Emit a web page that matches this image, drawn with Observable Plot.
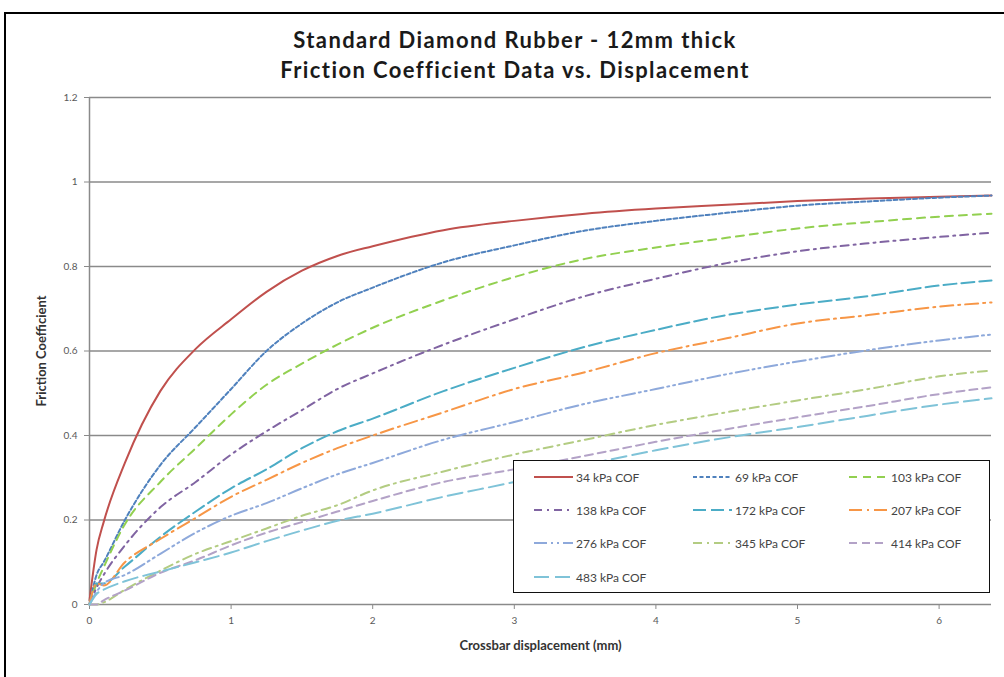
<!DOCTYPE html>
<html>
<head>
<meta charset="utf-8">
<script src="https://cdn.jsdelivr.net/npm/d3@7"></script>
<script src="https://cdn.jsdelivr.net/npm/@observablehq/plot@0.6"></script>
<style>
  html, body { margin: 0; padding: 0; width: 1004px; height: 677px; overflow: hidden; background: #fff; font-family: Lato, "Open Sans", sans-serif; }
  #frame { position: absolute; left: 4px; top: 12px; width: 1020px; height: 720px; border: 2.5px solid #000; box-sizing: border-box; }
  #title { position: absolute; left: 0; top: 25px; width: 1030px; text-align: center; font-weight: bold; font-size: 22px; letter-spacing: 1.4px; line-height: 30px; color: #1a1a1a; }
  #chart { position: absolute; left: 0; top: 0; }
  #legend { position: absolute; left: 513px; top: 460px; width: 477px; height: 133px; box-sizing: border-box; border: 1.5px solid #111; background: #fff; }
  .item { position: absolute; height: 16px; font-size: 12px; color: #444; display: flex; align-items: center; white-space: nowrap; }
  .item svg { margin-right: 3px; }
</style>
</head>
<body>
<div id="frame"></div>
<div id="chart"></div>
<div id="title">Standard Diamond Rubber - 12mm thick<br>Friction Coefficient Data vs. Displacement</div>
<div id="legend"></div>
<script>
// Displacement (mm)
const displacement = [0, 0.05, 0.1, 0.25, 0.5, 0.75, 1, 1.25, 1.5, 1.75, 2, 2.5, 3, 3.5, 4, 4.5, 5, 5.5, 6, 6.37];

// Friction coefficient per normal pressure
const cof34  = [0.01, 0.13, 0.195, 0.335, 0.505, 0.605, 0.675, 0.74, 0.79, 0.825, 0.848, 0.886, 0.908, 0.925, 0.937, 0.946, 0.955, 0.961, 0.965, 0.968];
const cof69  = [0, 0.07, 0.1, 0.2, 0.33, 0.42, 0.51, 0.6, 0.665, 0.715, 0.75, 0.81, 0.85, 0.885, 0.908, 0.927, 0.944, 0.954, 0.963, 0.968];
const cof103 = [0, 0.05, 0.088, 0.19, 0.29, 0.37, 0.45, 0.52, 0.57, 0.615, 0.655, 0.72, 0.775, 0.818, 0.845, 0.868, 0.89, 0.905, 0.918, 0.925];
const cof138 = [0, 0.04, 0.07, 0.14, 0.23, 0.29, 0.355, 0.41, 0.46, 0.51, 0.547, 0.615, 0.675, 0.73, 0.771, 0.808, 0.836, 0.855, 0.87, 0.88];
const cof172 = [0, 0.05, 0.05, 0.09, 0.16, 0.22, 0.275, 0.32, 0.37, 0.41, 0.44, 0.505, 0.56, 0.61, 0.65, 0.685, 0.71, 0.73, 0.755, 0.767];
const cof207 = [0, 0.05, 0.045, 0.1, 0.155, 0.205, 0.255, 0.295, 0.335, 0.37, 0.4, 0.455, 0.51, 0.55, 0.595, 0.63, 0.665, 0.685, 0.705, 0.715];
const cof276 = [0, 0.03, 0.05, 0.07, 0.12, 0.17, 0.21, 0.24, 0.275, 0.308, 0.335, 0.39, 0.432, 0.475, 0.51, 0.545, 0.575, 0.602, 0.625, 0.639];
const cof345 = [0, 0, 0.005, 0.035, 0.08, 0.12, 0.15, 0.18, 0.21, 0.235, 0.27, 0.315, 0.355, 0.39, 0.425, 0.455, 0.483, 0.51, 0.54, 0.554];
const cof414 = [0, 0, 0.01, 0.033, 0.075, 0.105, 0.14, 0.17, 0.195, 0.22, 0.245, 0.29, 0.32, 0.352, 0.385, 0.415, 0.443, 0.47, 0.498, 0.514];
const cof483 = [0, 0.025, 0.035, 0.055, 0.078, 0.1, 0.123, 0.15, 0.175, 0.198, 0.215, 0.255, 0.29, 0.33, 0.365, 0.395, 0.42, 0.447, 0.473, 0.488];

const seriesNames = ["34 kPa COF", "69 kPa COF", "103 kPa COF", "138 kPa COF", "172 kPa COF", "207 kPa COF", "276 kPa COF", "345 kPa COF", "414 kPa COF", "483 kPa COF"];
const seriesValues = [cof34, cof69, cof103, cof138, cof172, cof207, cof276, cof345, cof414, cof483];
const seriesColors = ["#C0504D", "#4F81BD", "#92D050", "#8064A2", "#4BACC6", "#F79646", "#8EA9DB", "#B3CC82", "#B3A2C7", "#7FC3D8"];
const seriesDash = ["none", "4,2.5", "8,6", "8,5,2,5", "13,5", "13,5,2,5", "13,4,2,4,2,4", "9,5,2,5", "8,5", "15,6"];

const xTicks = [0, 1, 2, 3, 4, 5, 6];
const yTicks = [0, 0.2, 0.4, 0.6, 0.8, 1, 1.2];

const rows = seriesNames.map((name, i) => displacement.map((d, j) => ({series: name, x: d, y: seriesValues[i][j]})));

const lineMarks = rows.map((data, i) => Plot.line(data, {
  x: "x", y: "y", stroke: seriesColors[i], strokeWidth: 2,
  strokeDasharray: seriesDash[i] === "none" ? null : seriesDash[i],
  curve: "monotone-x"
}));

const fmt = d => String(+(+d).toFixed(1));

const chart = Plot.plot({
  width: 1004,
  height: 677,
  marginLeft: 89,
  marginRight: 13,
  marginTop: 97,
  marginBottom: 73,
  style: {fontFamily: "Lato, 'Open Sans', sans-serif", fontSize: "10px", color: "#595959", background: "transparent"},
  x: {domain: [0, 6.37], ticks: xTicks, tickSize: 5, tickPadding: 7, label: null, tickFormat: fmt},
  y: {domain: [0, 1.2], ticks: yTicks, tickSize: 5, tickPadding: 7, label: null, tickFormat: fmt},
  marks: [
    Plot.gridY(yTicks.filter(t => t > 0), {stroke: "#8a8a8a", strokeOpacity: 1, strokeWidth: 1.5}),
    Plot.axisX({ticks: xTicks, tickSize: 5, tickPadding: 7, stroke: "#8a8a8a", fill: "#595959", label: null, tickFormat: fmt}),
    Plot.axisY({ticks: yTicks, tickSize: 5, tickPadding: 7, stroke: "#8a8a8a", fill: "#595959", label: null, tickFormat: fmt}),
    Plot.ruleY([0], {stroke: "#8a8a8a", strokeWidth: 1.5}),
    Plot.ruleX([0], {stroke: "#8a8a8a", strokeWidth: 1.5}),
    ...lineMarks,
    Plot.text(["Crossbar displacement (mm)"], {frameAnchor: "bottom", lineAnchor: "middle", dy: 41, fontWeight: "bold", fontSize: 13, letterSpacing: 1.0, fill: "#333"}),
    Plot.text(["Friction Coefficient"], {frameAnchor: "left", textAnchor: "middle", lineAnchor: "middle", dx: -48, rotate: -90, fontWeight: "bold", fontSize: 13, letterSpacing: 0.8, fill: "#333"})
  ]
});
document.getElementById("chart").appendChild(chart);

// Legend
const legend = document.getElementById("legend");
const colX = [20, 179, 335];
const rowY = [8, 41, 74, 108];
seriesNames.forEach((name, i) => {
  const item = document.createElement("div");
  item.className = "item";
  item.style.left = colX[i % 3] + "px";
  item.style.top = rowY[Math.floor(i / 3)] + "px";
  const ns = "http://www.w3.org/2000/svg";
  const s = document.createElementNS(ns, "svg");
  s.setAttribute("width", 39); s.setAttribute("height", 6);
  const l = document.createElementNS(ns, "line");
  l.setAttribute("x1", 0); l.setAttribute("x2", 39); l.setAttribute("y1", 3); l.setAttribute("y2", 3);
  l.setAttribute("stroke", seriesColors[i]); l.setAttribute("stroke-width", 2);
  if (seriesDash[i] !== "none") l.setAttribute("stroke-dasharray", seriesDash[i]);
  s.appendChild(l);
  item.appendChild(s);
  const t = document.createElement("span");
  t.textContent = name;
  item.appendChild(t);
  legend.appendChild(item);
});
</script>
</body>
</html>
